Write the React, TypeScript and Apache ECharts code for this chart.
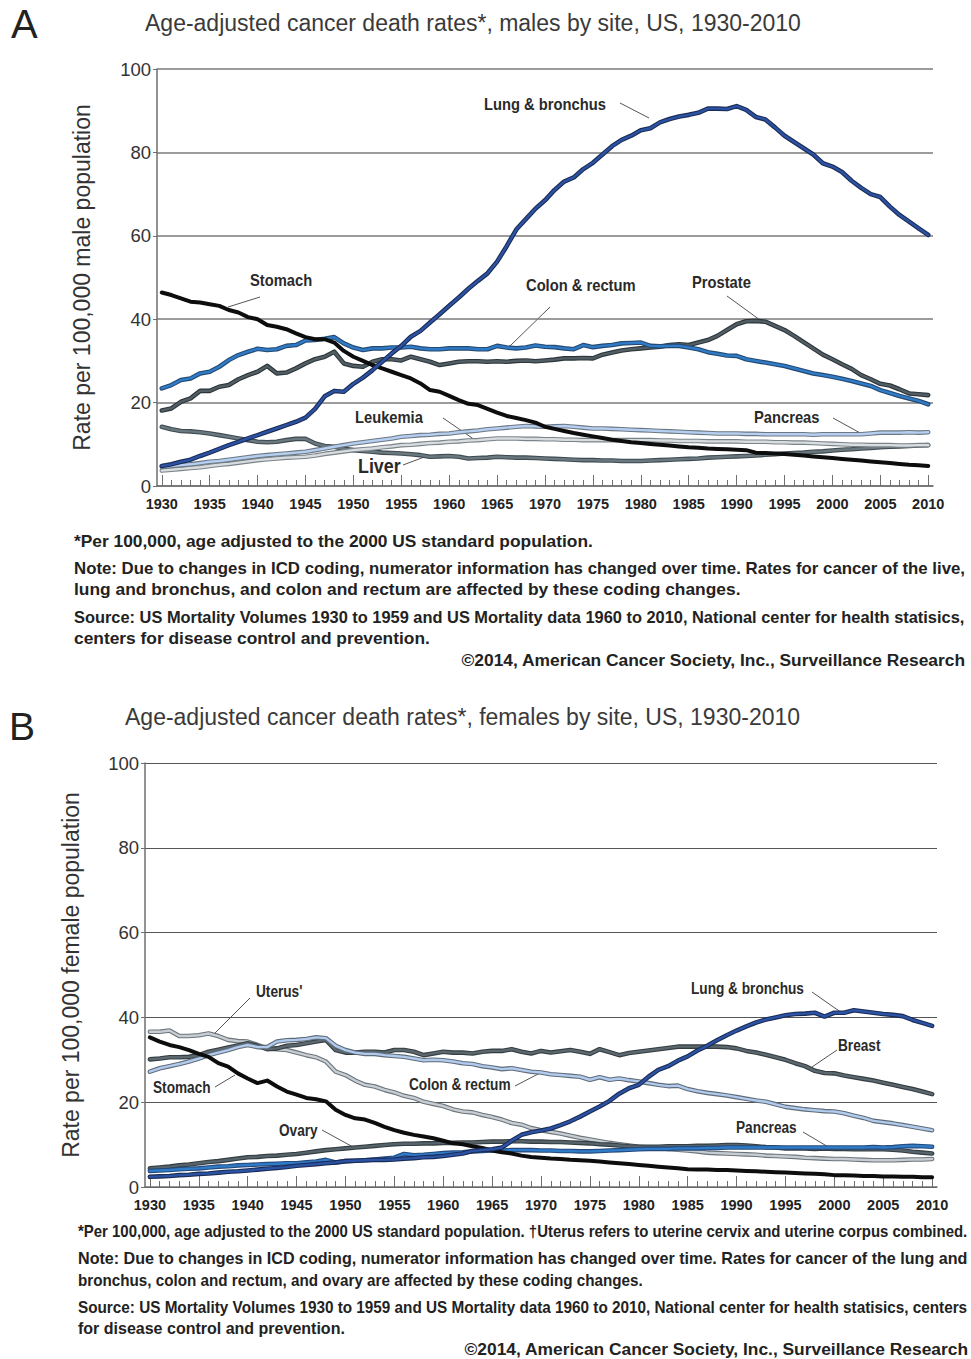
import React, { useEffect, useRef } from "react";
import * as echarts from "echarts";

// ---------- categories ----------
const YEARS: string[] = Array.from({ length: 81 }, (_, i) => String(1930 + i));
const Y_TICKS = [0, 20, 40, 60, 80, 100];

// ---------- Panel A: males (rate per 100,000) ----------
const M_LUNG = [4.8, 5.2, 5.8, 6.3, 7.2, 8.0, 8.9, 9.8, 10.6, 11.4, 12.2, 13.0, 13.8, 14.6, 15.4, 16.4, 18.5, 21.5, 22.8, 22.6,
  24.5, 26.0, 27.8, 29.8, 31.8, 33.6, 35.8, 37.2, 39.2, 41.2, 43.2, 45.2, 47.3, 49.2, 51.0, 53.8, 57.5, 61.5, 64.0, 66.5,
  68.5, 71.0, 73.0, 74.0, 76.0, 77.5, 79.5, 81.5, 83.0, 84.0, 85.3, 85.8, 87.2, 88.0, 88.6, 89.0, 89.5, 90.5, 90.5, 90.4,
  91.1, 90.2, 88.5, 87.9, 86.0, 84.0, 82.5, 81.0, 79.5, 77.4, 76.6, 75.3, 73.2, 71.5, 70.0, 69.3, 67.0, 65.0, 63.4, 61.8, 60.2];
const M_STOMACH = [46.4, 45.8, 45.0, 44.2, 44.0, 43.6, 43.2, 42.2, 41.6, 40.5, 40.0, 38.6, 38.2, 37.6, 36.6, 35.7, 35.2, 35.2, 34.4, 32.4,
  31.0, 30.0, 29.0, 28.2, 27.4, 26.6, 25.8, 24.6, 23.0, 22.6, 21.6, 20.6, 19.7, 19.4, 18.5, 17.6, 16.8, 16.3, 15.8, 15.2,
  14.2, 13.7, 13.2, 12.7, 12.3, 11.9, 11.5, 11.1, 10.8, 10.5, 10.3, 10.1, 9.9, 9.7, 9.5, 9.3, 9.2, 9.0, 8.9, 8.8,
  8.7, 8.6, 8.0, 7.9, 7.8, 7.7, 7.5, 7.3, 7.1, 6.9, 6.7, 6.5, 6.3, 6.1, 5.9, 5.7, 5.5, 5.3, 5.1, 5.0, 4.8];
const M_COLON = [23.4, 24.2, 25.4, 25.8, 27.0, 27.4, 28.6, 30.2, 31.4, 32.2, 32.9, 32.6, 32.8, 33.6, 33.8, 34.9, 35.0, 35.3, 35.7, 34.2,
  33.2, 32.6, 33.0, 33.0, 33.2, 33.2, 33.4, 33.0, 32.8, 32.8, 33.0, 33.0, 33.0, 32.8, 32.8, 33.6, 33.2, 33.0, 33.2, 33.7,
  33.4, 33.3, 33.0, 32.8, 33.8, 33.3, 33.6, 33.8, 34.2, 34.3, 34.4, 33.6, 33.5, 33.6, 33.6, 33.2, 32.8, 32.1, 31.7, 31.3,
  31.2, 30.4, 30.0, 29.6, 29.2, 28.8, 28.2, 27.6, 27.0, 26.6, 26.2, 25.7, 25.2, 24.6, 24.0, 23.0, 22.3, 21.6, 21.0, 20.4, 19.6];
const M_PROSTATE = [18.1, 18.6, 20.2, 21.0, 22.8, 22.8, 23.8, 24.2, 25.6, 26.6, 27.4, 28.8, 27.0, 27.2, 28.2, 29.4, 30.4, 31.0, 32.2, 29.4,
  28.8, 28.6, 29.8, 30.4, 30.4, 30.1, 31.0, 30.4, 29.8, 29.0, 29.4, 29.8, 29.9, 29.9, 29.8, 29.9, 29.8, 30.0, 30.1, 29.9,
  30.1, 30.3, 30.6, 30.6, 30.7, 30.6, 31.5, 32.0, 32.5, 32.8, 33.0, 33.2, 33.4, 33.8, 34.0, 33.8, 34.4, 35.0, 36.0, 37.4,
  38.8, 39.5, 39.6, 39.4, 38.4, 37.4, 36.0, 34.5, 33.0, 31.5, 30.4, 29.2, 28.1, 26.6, 25.6, 24.5, 24.1, 23.2, 22.2, 22.0, 21.8];
const M_LIVER = [14.2, 13.6, 13.2, 13.1, 12.9, 12.6, 12.2, 11.8, 11.4, 11.0, 10.6, 10.5, 10.6, 11.0, 11.3, 11.3, 10.2, 9.6, 9.4, 8.9,
  8.6, 8.4, 8.2, 8.0, 7.9, 7.8, 7.6, 7.4, 7.0, 7.1, 7.2, 7.0, 6.6, 6.7, 6.8, 7.0, 6.9, 6.8, 6.8, 6.7,
  6.6, 6.5, 6.4, 6.3, 6.2, 6.2, 6.1, 6.1, 6.0, 6.0, 6.0, 6.1, 6.2, 6.3, 6.4, 6.5, 6.6, 6.8, 6.9, 7.0,
  7.1, 7.2, 7.3, 7.5, 7.6, 7.8, 7.9, 8.0, 8.2, 8.3, 8.5, 8.7, 8.8, 9.0, 9.1, 9.3, 9.4, 9.5, 9.6, 9.7, 9.8];
const M_PANCREAS = [4.6, 4.8, 5.0, 5.2, 5.5, 5.8, 6.0, 6.3, 6.6, 6.9, 7.2, 7.4, 7.6, 7.8, 8.0, 8.2, 8.6, 9.0, 9.4, 9.8,
  10.2, 10.5, 10.8, 11.1, 11.4, 11.8, 12.0, 12.2, 12.3, 12.5, 12.6, 12.9, 13.1, 13.3, 13.6, 13.8, 14.0, 14.2, 14.4, 14.3,
  14.2, 14.3, 14.4, 14.2, 14.0, 13.8, 13.8, 13.7, 13.6, 13.5, 13.4, 13.3, 13.2, 13.1, 13.0, 12.9, 12.8, 12.7, 12.6, 12.6,
  12.6, 12.5, 12.5, 12.4, 12.4, 12.4, 12.4, 12.4, 12.3, 12.4, 12.4, 12.4, 12.4, 12.4, 12.6, 12.8, 12.8, 12.8, 12.9, 12.8, 12.9];
const M_LEUKEMIA = [3.7, 3.9, 4.1, 4.3, 4.5, 4.8, 5.1, 5.3, 5.6, 5.9, 6.2, 6.4, 6.6, 6.8, 6.9, 7.0, 7.3, 7.7, 8.0, 8.3,
  8.6, 8.8, 9.0, 9.3, 9.5, 9.8, 9.9, 10.1, 10.3, 10.4, 10.6, 10.7, 10.9, 11.0, 11.2, 11.4, 11.4, 11.4, 11.3, 11.3,
  11.2, 11.2, 11.1, 11.1, 11.0, 11.0, 11.0, 11.0, 11.0, 11.0, 11.0, 11.0, 10.9, 10.9, 10.8, 10.8, 10.8, 10.7, 10.7, 10.7,
  10.7, 10.6, 10.6, 10.6, 10.5, 10.5, 10.4, 10.4, 10.3, 10.2, 10.1, 10.0, 9.9, 9.9, 9.8, 9.8, 9.8, 9.7, 9.7, 9.8, 9.8];

// ---------- Panel B: females (rate per 100,000) ----------
const F_UTERUS = [36.6, 36.6, 36.9, 35.6, 35.6, 35.8, 36.2, 35.6, 34.7, 34.4, 34.3, 33.5, 32.7, 32.5, 32.3, 31.7, 31.1, 30.6, 29.6, 27.2,
  26.4, 25.1, 24.1, 23.7, 22.9, 22.3, 21.5, 21.0, 20.1, 19.6, 19.1, 18.3, 17.8, 17.6, 17.0, 16.5, 15.9, 15.1, 14.7, 13.9,
  13.4, 13.0, 12.6, 12.1, 11.6, 11.2, 10.8, 10.4, 10.1, 9.8, 9.5, 9.3, 9.2, 9.0, 8.8, 8.6, 8.4, 8.1, 8.0, 7.9,
  7.8, 7.7, 7.6, 7.4, 7.3, 7.2, 7.1, 6.9, 6.8, 6.7, 6.6, 6.6, 6.5, 6.4, 6.3, 6.3, 6.3, 6.4, 6.5, 6.5, 6.6];
const F_STOMACH = [35.3, 34.3, 33.5, 33.0, 32.3, 31.4, 30.7, 29.2, 28.4, 26.8, 25.6, 24.5, 25.1, 23.7, 22.5, 21.8, 21.0, 20.7, 20.2, 18.2,
  17.0, 16.2, 15.9, 15.1, 14.2, 13.4, 12.8, 12.3, 11.9, 11.5, 10.9, 10.3, 10.1, 9.6, 9.2, 8.6, 8.2, 7.9, 7.4, 7.1,
  6.9, 6.7, 6.6, 6.4, 6.3, 6.2, 6.0, 5.8, 5.6, 5.4, 5.2, 5.0, 4.8, 4.6, 4.4, 4.2, 4.1, 4.1, 4.0, 4.0,
  3.9, 3.8, 3.7, 3.6, 3.5, 3.4, 3.3, 3.2, 3.1, 3.0, 2.8, 2.8, 2.7, 2.6, 2.6, 2.5, 2.5, 2.4, 2.4, 2.3, 2.3];
const F_BREAST = [30.1, 30.3, 30.6, 30.6, 30.7, 31.1, 31.9, 32.4, 32.9, 33.4, 33.9, 33.3, 32.5, 32.7, 33.3, 33.5, 33.9, 34.3, 34.7, 32.3,
  31.7, 31.7, 31.9, 31.9, 31.7, 32.3, 32.3, 31.9, 31.1, 31.5, 31.9, 31.7, 31.7, 31.5, 31.9, 32.1, 32.1, 32.5, 31.9, 31.5,
  32.1, 31.7, 32.0, 32.3, 31.9, 31.4, 32.5, 31.8, 31.1, 31.6, 31.9, 32.2, 32.5, 32.8, 33.1, 33.1, 33.1, 33.1, 33.1, 33.0,
  32.7, 32.1, 31.7, 31.2, 30.6, 30.0, 29.2, 28.5, 27.4, 26.9, 26.8, 26.3, 25.9, 25.5, 25.1, 24.6, 24.1, 23.6, 23.1, 22.5, 21.9];
const F_COLON = [27.2, 28.0, 28.5, 29.0, 29.6, 30.3, 31.1, 31.7, 32.3, 33.0, 33.5, 33.0, 33.0, 34.3, 34.6, 34.7, 34.9, 35.3, 35.1, 33.3,
  32.3, 31.7, 31.4, 31.4, 31.1, 30.9, 30.7, 30.3, 29.9, 30.0, 29.9, 29.6, 29.2, 29.0, 28.5, 28.2, 27.8, 28.0, 27.6, 27.2,
  27.0, 26.6, 26.4, 26.2, 26.0, 25.3, 25.9, 25.3, 25.6, 25.2, 24.9, 24.5, 24.1, 23.8, 23.9, 23.1, 22.6, 22.2, 21.9, 21.6,
  21.2, 20.8, 20.4, 20.1, 19.5, 18.9, 18.6, 18.3, 18.1, 17.9, 17.8, 17.4, 16.8, 16.3, 15.6, 15.3, 15.0, 14.6, 14.2, 13.8, 13.4];
const F_LUNG = [2.4, 2.5, 2.6, 2.8, 2.9, 3.1, 3.2, 3.4, 3.6, 3.7, 3.9, 4.1, 4.3, 4.5, 4.7, 5.0, 5.2, 5.4, 5.6, 5.8,
  6.1, 6.2, 6.3, 6.4, 6.4, 6.5, 6.7, 6.8, 7.0, 7.1, 7.3, 7.6, 7.9, 8.5, 8.7, 8.9, 9.3, 10.9, 12.3, 12.9,
  13.3, 13.8, 14.6, 15.5, 16.6, 17.8, 19.0, 20.3, 22.0, 23.3, 24.1, 26.0, 27.6, 28.5, 29.8, 30.8, 32.2, 33.3, 34.6, 35.8,
  36.9, 37.9, 38.8, 39.5, 40.0, 40.5, 40.8, 40.9, 41.1, 40.2, 41.1, 41.1, 41.7, 41.4, 41.1, 40.8, 40.6, 40.3, 39.4, 38.7, 38.0];
const F_OVARY = [4.4, 4.6, 4.8, 5.1, 5.3, 5.6, 5.9, 6.1, 6.4, 6.7, 7.0, 7.1, 7.3, 7.4, 7.6, 7.8, 8.1, 8.4, 8.7, 8.9,
  9.1, 9.3, 9.5, 9.7, 9.9, 10.1, 10.2, 10.2, 10.3, 10.3, 10.4, 10.4, 10.5, 10.5, 10.6, 10.7, 10.7, 10.8, 10.8, 10.7,
  10.7, 10.6, 10.6, 10.5, 10.4, 10.3, 10.1, 10.0, 9.8, 9.6, 9.5, 9.5, 9.5, 9.6, 9.6, 9.6, 9.7, 9.7, 9.8, 9.9,
  9.9, 9.8, 9.6, 9.4, 9.3, 9.1, 9.1, 9.1, 9.0, 9.1, 9.0, 9.0, 8.9, 8.9, 8.9, 8.9, 8.8, 8.6, 8.3, 8.1, 7.9];
const F_PANCREAS = [3.8, 3.9, 4.0, 4.2, 4.3, 4.4, 4.6, 4.8, 4.9, 5.1, 5.2, 5.3, 5.4, 5.5, 5.6, 5.6, 5.8, 6.0, 6.4, 5.8,
  6.1, 6.2, 6.3, 6.5, 6.7, 6.9, 7.8, 7.5, 7.6, 7.8, 8.0, 8.1, 8.2, 8.4, 8.5, 8.6, 8.6, 8.7, 8.7, 8.7,
  8.6, 8.6, 8.5, 8.5, 8.4, 8.4, 8.5, 8.6, 8.7, 8.8, 8.9, 9.0, 9.0, 9.0, 9.1, 9.1, 9.1, 9.2, 9.2, 9.3,
  9.3, 9.3, 9.3, 9.3, 9.3, 9.3, 9.3, 9.3, 9.3, 9.3, 9.3, 9.3, 9.3, 9.3, 9.4, 9.3, 9.4, 9.6, 9.7, 9.6, 9.5];

// ---------- text ----------
const TITLE_A = "Age-adjusted cancer death rates*, males by site, US, 1930-2010";
const TITLE_B = "Age-adjusted cancer death rates*, females by site, US, 1930-2010";
const YNAME_A = "Rate per 100,000 male population";
const YNAME_B = "Rate per 100,000 female population";
const NOTES_A = [
  "*Per 100,000, age adjusted to the 2000 US standard population.",
  "Note: Due to changes in ICD coding, numerator information has changed over time. Rates for cancer of the live,",
  "lung and bronchus, and colon and rectum are affected by these coding changes.",
  "Source: US Mortality Volumes 1930 to 1959 and US Mortality data 1960 to 2010, National center for health statisics,",
  "centers for disease control and prevention.",
];
const NOTES_B = [
  "*Per 100,000, age adjusted to the 2000 US standard population. \u2020Uterus refers to uterine cervix and uterine corpus combined.",
  "Note: Due to changes in ICD coding, numerator information has changed over time. Rates for cancer of the lung and",
  "bronchus, colon and rectum, and ovary are affected by these coding changes.",
  "Source: US Mortality Volumes 1930 to 1959 and US Mortality data 1960 to 2010, National center for health statisics, centers",
  "for disease control and prevention.",
];
const COPYRIGHT = "\u00a92014, American Cancer Society, Inc., Surveillance Research";

// layout: rendered width of each footnote line in the original (px)
const NOTE_W_A = [519, 891, 667, 891, 356];
const NOTE_W_B = [890, 890, 565, 890, 267];
const COPY_W = 504;

const SANS = "'Liberation Sans', Arial, Helvetica, sans-serif";
const AXIS_GRAY = "#6f6f6f";

function measure(text: string, size: number, weight = "bold") {
  const c = document.createElement("canvas").getContext("2d");
  if (!c) return text.length * size * 0.55;
  c.font = `${weight} ${size}px 'Liberation Sans', Arial, sans-serif`;
  return c.measureText(text).width;
}

function outlined(name: string, data: number[], xi: number, yi: number, edge: string, inner: string, we = 4.6, wi = 2.4) {
  return [
    { type: "line", name: name + " edge", data, xAxisIndex: xi, yAxisIndex: yi, symbol: "none", silent: true,
      lineStyle: { color: edge, width: we, join: "round", cap: "round" } },
    { type: "line", name, data, xAxisIndex: xi, yAxisIndex: yi, symbol: "none", silent: true,
      lineStyle: { color: inner, width: wi, join: "round", cap: "round" } },
  ];
}
function solid(name: string, data: number[], xi: number, yi: number, color: string, w = 4) {
  return [{ type: "line", name, data, xAxisIndex: xi, yAxisIndex: yi, symbol: "none", silent: true,
    lineStyle: { color, width: w, join: "round", cap: "round" } }];
}

function xAxes(grid: number) {
  return [
    { type: "category", gridIndex: grid, data: YEARS, boundaryGap: true, position: "bottom",
      axisLine: { show: true, lineStyle: { color: AXIS_GRAY, width: 1.5 } },
      axisTick: { show: true, inside: true, length: 6, alignWithLabel: true, interval: 0, lineStyle: { color: AXIS_GRAY, width: 1 } },
      axisLabel: { interval: 4, fontFamily: SANS, fontWeight: "bold", fontSize: 14.5, color: "#222", margin: 10 },
      splitLine: { show: false } },
    { type: "category", gridIndex: grid, data: YEARS, boundaryGap: true, position: "bottom",
      axisLine: { show: false },
      axisTick: { show: true, inside: true, length: 11, alignWithLabel: true, interval: 4, lineStyle: { color: AXIS_GRAY, width: 1 } },
      axisLabel: { show: false }, splitLine: { show: false } },
  ];
}
function yAxis(grid: number, name: string, gap: number, gridColor: string, gridWidth: number) {
  return { type: "value", gridIndex: grid, min: Y_TICKS[0], max: Y_TICKS[Y_TICKS.length - 1], interval: 20,
    axisLine: { show: true, lineStyle: { color: AXIS_GRAY, width: 1.5 } },
    axisTick: { show: true, length: 4, lineStyle: { color: AXIS_GRAY } },
    splitLine: { show: true, lineStyle: { color: gridColor, width: gridWidth } },
    axisLabel: { fontFamily: SANS, fontSize: 18.5, color: "#333", margin: 6 },
    name, nameLocation: "middle", nameGap: gap,
    nameTextStyle: { fontFamily: SANS, fontSize: 23, color: "#333" } };
}

function txt(text: string, x: number, y: number, size: number, opts: any = {}) {
  return { type: "text", x, y, silent: true, scaleX: opts.scaleX || 1,
    style: { text, fontSize: size, fontFamily: SANS, fontWeight: opts.weight || "bold",
      fill: opts.fill || "#222", align: opts.align || "left", verticalAlign: "middle" } };
}
// bold text condensed horizontally to a given rendered width
function fitted(text: string, x: number, y: number, size: number, width: number, align = "left") {
  return txt(text, x, y, size, { scaleX: width / measure(text, size), align });
}
function lead(x1: number, y1: number, x2: number, y2: number) {
  return { type: "line", silent: true, shape: { x1, y1, x2, y2 }, style: { stroke: "#555", lineWidth: 1 } };
}

export default function App() {
  const ref = useRef<HTMLDivElement>(null);
  useEffect(() => {
    if (!ref.current) return;
    const chart = echarts.init(ref.current, null, { renderer: "svg" });
    const series = [
      ...outlined("Liver", M_LIVER, 0, 0, "#3f4a50", "#6a787f"),
      ...outlined("Leukemia", M_LEUKEMIA, 0, 0, "#79838a", "#d9dde0"),
      ...outlined("Pancreas", M_PANCREAS, 0, 0, "#6b7782", "#b6cff0"),
      ...outlined("Prostate", M_PROSTATE, 0, 0, "#2b353a", "#525e64"),
      ...outlined("Colon & rectum", M_COLON, 0, 0, "#25496f", "#2f7bc8"),
      ...solid("Stomach", M_STOMACH, 0, 0, "#0d0d0d", 4),
      ...outlined("Lung & bronchus", M_LUNG, 0, 0, "#1a2b55", "#2c53a3"),

      ...outlined("Uterus", F_UTERUS, 2, 1, "#6b757b", "#c7cdd2"),
      ...outlined("Breast", F_BREAST, 2, 1, "#333d42", "#5c686e"),
      ...outlined("Colon & rectum (F)", F_COLON, 2, 1, "#5f6d7a", "#b2caec"),
      ...outlined("Ovary", F_OVARY, 2, 1, "#333d42", "#56636a"),
      ...outlined("Pancreas (F)", F_PANCREAS, 2, 1, "#24497a", "#2f7bc8"),
      ...solid("Stomach (F)", F_STOMACH, 2, 1, "#0d0d0d", 4),
      ...outlined("Lung & bronchus (F)", F_LUNG, 2, 1, "#1a2b55", "#2c53a3"),
    ];

    const sAnnA = 122 / measure("Lung & bronchus", 16.5);
    const sAnnB = 113 / measure("Lung & bronchus", 16);
    const a = (t: string, x: number, y: number, size = 16.5) => txt(t, x, y, size, { scaleX: sAnnA, fill: "#2a2a2a" });
    const b = (t: string, x: number, y: number, size = 16) => txt(t, x, y, size, { scaleX: sAnnB, fill: "#2a2a2a" });

    const graphic: any[] = [
      txt("A", 11, 24, 40, { weight: "normal", fill: "#222" }),
      txt(TITLE_A, 145, 23, 23, { weight: "normal", fill: "#3a3a3a" }),
      txt("B", 9, 726, 39, { weight: "normal", fill: "#222" }),
      txt(TITLE_B, 125, 717, 23, { weight: "normal", fill: "#3a3a3a" }),
      // panel A annotations
      a("Lung & bronchus", 484, 104), lead(620, 103, 649, 118),
      a("Stomach", 250, 280), lead(260, 297, 228, 307),
      a("Colon & rectum", 526, 285), lead(550, 307, 510, 346),
      a("Prostate", 692, 282), lead(727, 296, 760, 320),
      a("Leukemia", 355, 417), lead(443, 418, 475, 440),
      a("Pancreas", 754, 417), lead(833, 418, 862, 434),
      a("Liver", 358, 466, 20), lead(403, 465, 427, 456),
      // panel B annotations
      b("Uterus'", 256, 992), lead(250, 998, 215, 1033),
      b("Stomach", 153, 1088), lead(215, 1087, 235, 1075),
      b("Colon & rectum", 409, 1085), lead(515, 1086, 540, 1073),
      b("Ovary", 279, 1131), lead(322, 1130, 353, 1147),
      b("Lung & bronchus", 691, 989), lead(812, 992, 842, 1013),
      b("Breast", 838, 1046), lead(837, 1050, 812, 1067),
      b("Pancreas", 736, 1128), lead(803, 1132, 830, 1148),
    ];
    const yA = [542, 568, 590, 617, 639];
    NOTES_A.forEach((t, i) => graphic.push(fitted(t, 74, yA[i], 16, NOTE_W_A[i])));
    graphic.push(fitted(COPYRIGHT, 965, 661, 16, COPY_W, "right"));
    const yB = [1231, 1258, 1280, 1307, 1329];
    NOTES_B.forEach((t, i) => graphic.push(fitted(t, 78, yB[i], 16, NOTE_W_B[i])));
    graphic.push(fitted(COPYRIGHT, 968, 1350, 16, COPY_W, "right"));

    chart.setOption({
      animation: false,
      backgroundColor: "#ffffff",
      grid: [
        { left: 157, top: 69, width: 776, height: 417, containLabel: false },
        { left: 145, top: 763, width: 792, height: 424, containLabel: false },
      ],
      xAxis: [...xAxes(0), ...xAxes(1)],
      yAxis: [
        yAxis(0, YNAME_A, 64, "#7a7a7a", 1.5),
        yAxis(1, YNAME_B, 63, "#555555", 1),
      ],
      series,
      graphic,
    });
    return () => chart.dispose();
  }, []);
  return (
    <div
      ref={ref}
      style={{ position: "absolute", left: 0, top: 0, width: 971, height: 1359, background: "#fff" }}
    />
  );
}
